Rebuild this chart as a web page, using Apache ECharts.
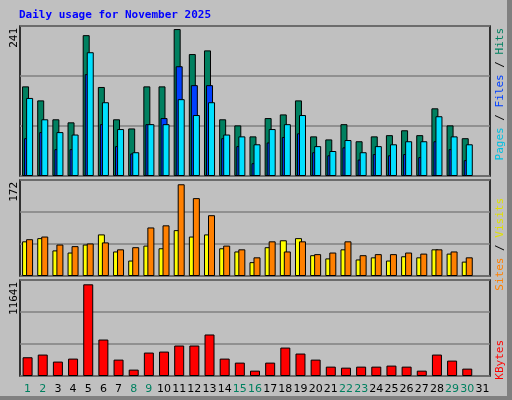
<!DOCTYPE html>
<html><head><meta charset="utf-8">
<script src="https://cdn.jsdelivr.net/npm/echarts@6/dist/echarts.min.js"></script>
<style>html,body{margin:0;padding:0;background:#c0c0c0}#c{width:512px;height:400px}</style>
</head><body><div id="c"></div>
<script>
const days = ['1','2','3','4','5','6','7','8','9','10','11','12','13','14','15','16','17','18','19','20','21','22','23','24','25','26','27','28','29','30','31'];
const weekend = ['1','2','8','9','15','16','22','23','29','30'];
const hits  = [147,124,93,88,231,146,93,78,147,147,241,200,206,93,83,65,95,101,124,65,60,85,57,65,67,75,67,111,83,62,null];
const pages = [62,72,44,44,167,85,49,37,85,95,180,149,149,62,49,21,55,64,70,39,34,47,27,36,34,36,31,57,44,26,null];
const files = [128,93,72,68,203,121,77,39,85,85,126,100,121,68,65,52,77,85,100,49,41,59,39,49,52,57,57,98,65,52,null];
const visits= [65,71,48,44,59,78,46,29,57,52,86,74,78,52,46,26,54,67,71,39,33,50,31,35,29,37,35,50,42,27,null];
const sites = [69,74,59,56,61,63,50,54,91,95,172,146,114,57,50,35,65,46,65,41,44,65,39,41,41,44,42,50,46,35,null];
const kbytes= [2380,2720,1830,2210,11641,4630,2080,810,2975,3100,3870,3870,5270,2210,1700,680,1700,3610,2850,2080,1190,1060,1190,1190,1320,1190,680,2720,1955,935,null];
const maxLabels = ['241','172','11641'];

const chart = echarts.init(document.getElementById('c'));
const mono = 'DejaVu Sans Mono';
const grids = [{left:20,right:22,top:26,height:150},{left:20,right:22,top:180,height:96},{left:20,right:22,top:280,height:96}]
  .map(g=>Object.assign(g,{show:true,borderColor:'#000',borderWidth:1.5,backgroundColor:'#c0c0c0'}));
const xAxis = [0,1,2].map(i=>({type:'category',gridIndex:i,data:days,
  axisLine:{show:false},axisTick:{show:false},
  axisLabel:i===2?{show:true,interval:0,fontFamily:'DejaVu Sans',fontSize:11,margin:8,
    color:(v)=>weekend.includes(v)?'#008060':'#000'}:{show:false}}));
const ymax=[[246,82],[180,60],[12189,4063]];
const yAxis = ymax.map((m,i)=>({type:'value',gridIndex:i,min:0,max:m[0],interval:m[1],
  axisLine:{show:false},axisTick:{show:false},axisLabel:{show:false},
  splitLine:{show:true,lineStyle:{color:'#808080',width:1.5}}}));
const bs = (name,data,color,xi,w,gap)=>({name,type:'bar',data,xAxisIndex:xi,yAxisIndex:xi,barWidth:w,barGap:gap,
  itemStyle:{color,borderColor:'#000',borderWidth:1},animation:false,silent:true});
const rot = (text,x,y)=>({type:'text',x,y,rotation:Math.PI/2,style:{text,fill:'#000',fontFamily:mono,fontSize:11,textAlign:'right',textVerticalAlign:'middle'}});
chart.setOption({
  backgroundColor:'#c0c0c0',
  grid:grids,xAxis,yAxis,
  series:[
    bs('Hits',hits,'#008060',0,7,'-71%'),
    bs('Pages',pages,'#0040ff',0,7,'-71%'),
    bs('Files',files,'#00e0ff',0,7,'-71%'),
    bs('Visits',visits,'#ffff00',1,7,'-43%'),
    bs('Sites',sites,'#ff8000',1,7,'-43%'),
    bs('KBytes',kbytes,'#ff0000',2,10,'0%')
  ],
  graphic:[
    {type:'rect',shape:{x:507,y:0,width:5,height:400},style:{fill:'#808080'}},
    {type:'rect',shape:{x:0,y:396,width:512,height:4},style:{fill:'#808080'}},
    {type:'text',x:19,y:10,style:{text:'Daily usage for November 2025',fill:'#0000ff',fontFamily:mono,fontWeight:'bold',fontSize:11}},
    rot(maxLabels[0],14,28),
    rot(maxLabels[1],14,182),
    rot(maxLabels[2],14,282),
    {type:'text',x:500,y:28,rotation:Math.PI/2,style:{text:'{p|Pages} / {f|Files} / {h|Hits}',fontFamily:mono,fontSize:11,textAlign:'right',textVerticalAlign:'middle',
      rich:{p:{fill:'#00c0e0',fontFamily:mono,fontSize:11},f:{fill:'#0040ff',fontFamily:mono,fontSize:11},h:{fill:'#008060',fontFamily:mono,fontSize:11}}}},
    {type:'text',x:500,y:198,rotation:Math.PI/2,style:{text:'{s|Sites} / {v|Visits}',fontFamily:mono,fontSize:11,textAlign:'right',textVerticalAlign:'middle',
      rich:{s:{fill:'#ff8000',fontFamily:mono,fontSize:11},v:{fill:'#e0e000',fontFamily:mono,fontSize:11}}}},
    {type:'text',x:500,y:340,rotation:Math.PI/2,style:{text:'KBytes',fill:'#ff0000',fontFamily:mono,fontSize:11,textAlign:'right',textVerticalAlign:'middle'}}
  ]
});
</script></body></html>
